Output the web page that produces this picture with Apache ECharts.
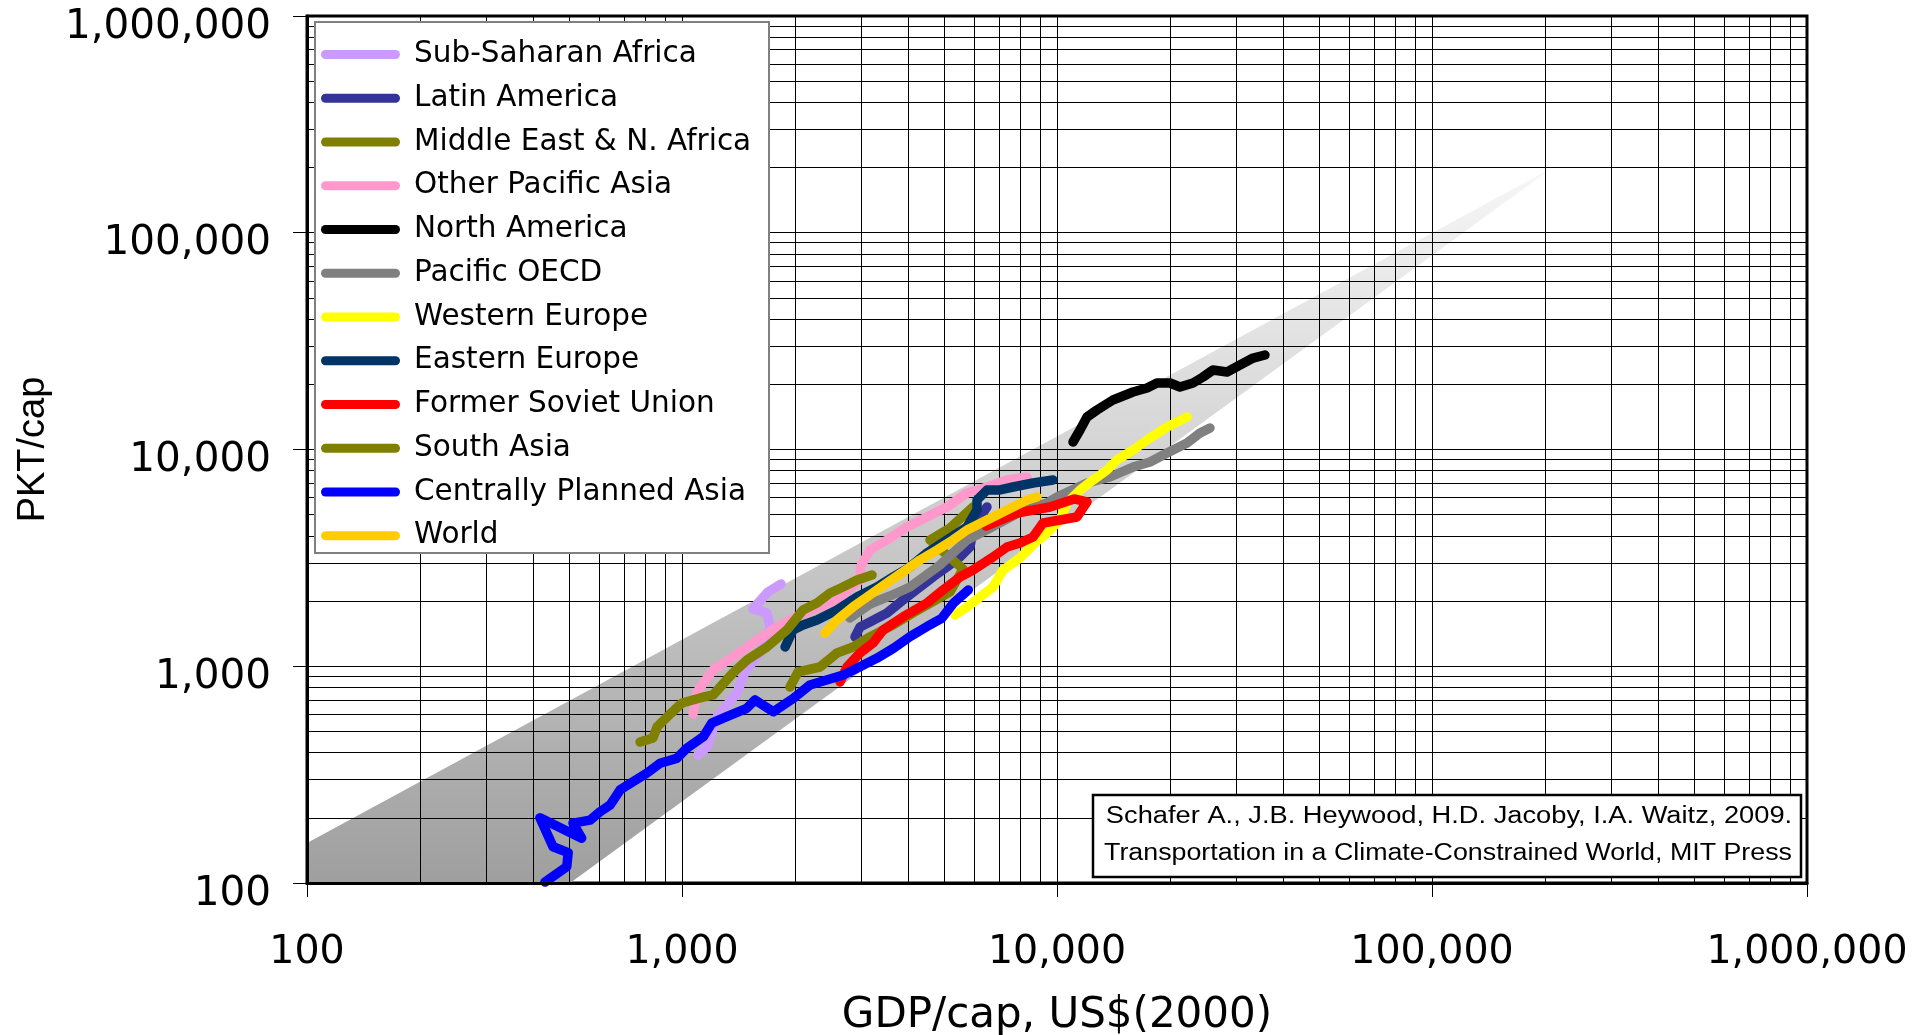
<!DOCTYPE html>
<html><head><meta charset="utf-8">
<script src="https://cdn.jsdelivr.net/npm/echarts@6/dist/echarts.min.js"></script>
<style>html,body{margin:0;padding:0;background:#fff}#c{width:1926px;height:1035px}</style>
</head><body><div id="c"></div>
<script>
const seriesNames = ['Sub-Saharan Africa','Latin America','Middle East & N. Africa','Other Pacific Asia','North America','Pacific OECD','Western Europe','Eastern Europe','Former Soviet Union','South Asia','Centrally Planned Asia','World'];
const seriesColors = ['#cc99ff','#333399','#808000','#ff99cc','#000000','#808080','#ffff00','#003366','#ff0000','#808000','#0000ff','#ffcc00'];

const ssaGdp = [1103,1166,1240,1402,1472,1634,1717,1685,1546,1695,1837];
const ssaPkt = [390,424,583,753,941,1189,1517,1761,1837,2201,2397];
const laGdp = [2893,2983,3171,3522,3885,4313,4671,5089,5512,5861,5970,6233,6506];
const laPkt = [1365,1517,1600,1761,2022,2321,2581,2870,3192,3550,4252,4883,5429];
const menaGdp = [1941,2039,2333,2590,2858,3171,3653,4130,5184,5616,5346,4585,5184,5970];
const menaPkt = [802,941,992,1151,1227,1365,1549,1761,2201,2810,3027,3824,4345,5429];
const opaGdp = [1070,1096,1210,1367,1546,1792,2064,2590,2983,2990,3171,3522,3981,4500,5089,5754,6506,7356,8318];
const opaPkt = [602,761,961,1103,1280,1517,1724,2022,2500,2870,3439,3824,4390,4883,5429,6300,6714,7230,7466];
const naGdp = [11033,11517,12023,12785,14103,15946,17378,18478,20014,21281,23052,24512,26062,28404,30761,33324,35858];
const naPkt = [10829,12303,14125,15214,16922,18417,19215,20265,20265,19424,20265,21602,23272,22786,24537,26427,27290];
const poGdp = [2805,3171,3587,4055,4875,5754,6627,7965,9404,10000,12023,13849,15946,17701,19652,22223,24062,25586];
const poPkt = [1670,1937,2110,2321,2932,3824,4345,5147,5666,6037,7004,7466,8305,8755,9637,10715,11915,12568];
const weGdp = [5346,5754,6233,6751,7178,7965,8846,9404,10186,10634,11517,12474,13594,14454,15946,17378,19652,22223];
const wePkt = [1724,1877,2087,2321,2780,3159,3784,4120,4729,5666,6504,7230,8044,8945,9947,11063,12701,14125];
const eeGdp = [1883,1977,2102,2291,2590,2929,3311,3653,4055,4500,5089,5754,6119,6119,6506,7047,7635,8630,9757];
const eePkt = [1227,1470,1549,1635,1818,2087,2321,2581,2870,3331,3824,4390,5260,5848,6504,6504,6714,7004,7230];
const fsuGdp = [2638,2754,2983,3231,3436,3885,4500,4966,5512,5970,6751,7356,7965,8630,9177,11307,12023,11103,9579,7820,6469];
const fsuPkt = [846,992,1151,1280,1470,1688,1958,2248,2581,2780,3192,3550,3704,3949,4581,4883,5726,5911,5429,5093,4436];
const saGdp = [773,837,858,912,1000,1117,1210,1367,1491,1685,1905,2102,2291,2482,2687,2929,3212];
const saPkt = [447,467,525,583,677,714,737,931,1069,1227,1470,1818,1958,2178,2321,2500,2636];
const cpaGdp = [431,493,497,453,418,540,512,569,604,643,684,740,805,874,968,1029,1140,1200,1316,1488,1566,1752,1981,2193,2430,2692,2983,3305,3661,4055,4493,4926,5290,5800];
const cpaPkt = [101,119,138,147,200,161,189,195,213,229,269,293,321,357,376,418,473,546,585,640,699,617,711,819,864,912,995,1088,1210,1369,1522,1664,1952,2248];
const worldGdp = [2406,2590,2858,3114,3522,3885,4313,4786,5280,5754,6506,7356,8318,8846];
const worldPkt = [1424,1635,1877,2087,2422,2722,3092,3439,3824,4252,4729,5260,5848,6037];

const bandGdp = [100,210000,503,100];
const bandPkt = [153,200000,100,100];

const citationLines = ['Schafer A., J.B. Heywood, H.D. Jacoby, I.A. Waitz, 2009.','Transportation in a Climate-Constrained World, MIT Press'];

const gdpSets = [ssaGdp,laGdp,menaGdp,opaGdp,naGdp,poGdp,weGdp,eeGdp,fsuGdp,saGdp,cpaGdp,worldGdp];
const pktSets = [ssaPkt,laPkt,menaPkt,opaPkt,naPkt,poPkt,wePkt,eePkt,fsuPkt,saPkt,cpaPkt,worldPkt];

const gridValues = [];
[100,1000,10000,100000].forEach(d => { for (let k = 1; k <= 9; k++) gridValues.push(k * d); });
gridValues.push(1000000);

const chart = echarts.init(document.getElementById('c'), null, {renderer:'canvas', width:1926, height:1035});
const fmt = v => Math.round(v).toLocaleString('en-US');

const dataSeries = seriesNames.map((name, i) => ({
  name: name, type: 'line', symbol: 'none', z: 3,
  data: gdpSets[i].map((g, j) => [g, pktSets[i][j]]),
  color: seriesColors[i],
  itemStyle: {color: seriesColors[i]},
  lineStyle: {color: seriesColors[i], width: 9.5, cap: 'round', join: 'round'},
  emphasis: {disabled: true}, silent: true
}));

chart.setOption({
  animation: false,
  grid: {left: 307, right: 119, top: 16, bottom: 152, show: true, borderColor: '#000', borderWidth: 3, backgroundColor: 'transparent', outerBoundsMode: 'none', containLabel: false},
  xAxis: {
    type: 'log', logBase: 10, min: 100, max: 1000000, splitNumber: 4, z: 5,
    axisLine: {show: true, onZero: false, lineStyle: {color: '#000', width: 3}},
    axisTick: {show: true, inside: false, length: 14, lineStyle: {color: '#000', width: 1}},
    axisLabel: {fontFamily: 'DejaVu Sans', fontSize: 39.5, color: '#000', margin: 50, formatter: fmt},
    splitLine: {show: false},
    name: 'GDP/cap, US$(2000)', nameLocation: 'middle', nameGap: 112,
    nameTextStyle: {fontFamily: 'DejaVu Sans', fontSize: 42, color: '#000'}
  },
  yAxis: {
    type: 'log', logBase: 10, min: 100, max: 1000000, splitNumber: 4, z: 5,
    axisLine: {show: true, onZero: false, lineStyle: {color: '#000', width: 3}},
    axisTick: {show: true, inside: false, length: 14, lineStyle: {color: '#000', width: 1}},
    axisLabel: {fontFamily: 'DejaVu Sans', fontSize: 40.5, color: '#000', margin: 36, verticalAlign: 'top', lineHeight: 22, formatter: fmt},
    splitLine: {show: false},
    name: 'PKT/cap', nameLocation: 'middle', nameRotate: 90, nameGap: 254,
    nameTextStyle: {fontFamily: 'Liberation Sans', fontSize: 38, color: '#000'}
  },
  legend: {
    orient: 'vertical', left: 321, top: 39.5, padding: 0, itemGap: 13.75,
    itemWidth: 79, itemHeight: 9, z: 10, selectedMode: false,
    icon: 'path://M4.5,0L74.5,0A4.5,4.5,0,0,1,74.5,9L4.5,9A4.5,4.5,0,0,1,4.5,0Z',
    itemStyle: {borderWidth: 0},
    textStyle: {fontFamily: 'DejaVu Sans', fontSize: 29.5, lineHeight: 30, color: '#000', padding: [0,0,0,9]},
    data: seriesNames
  },
  graphic: [
    {type: 'rect', z: 8, shape: {x: 315, y: 22, width: 454, height: 531}, style: {fill: '#fff', stroke: '#808080', lineWidth: 2}},
    {type: 'rect', z: 8, shape: {x: 1093, y: 795, width: 708, height: 82}, style: {fill: '#fff', stroke: '#000', lineWidth: 2.5}},
    {type: 'text', z: 9, x: 1449, y: 817, scaleX: 1.17, style: {text: citationLines[0], fontFamily: 'Liberation Sans', fontSize: 23.3, fill: '#000', align: 'center', verticalAlign: 'middle'}},
    {type: 'text', z: 9, x: 1448, y: 854, scaleX: 1.15, style: {text: citationLines[1], fontFamily: 'Liberation Sans', fontSize: 23.3, fill: '#000', align: 'center', verticalAlign: 'middle'}}
  ],
  series: [
    {
      type: 'custom', name: 'band', z: 1, silent: true, clip: true,
      data: bandGdp.map((g, i) => [g, bandPkt[i]]),
      renderItem: function (params, api) {
        if (params.dataIndex !== 0) return null;
        const pts = bandGdp.map((g, i) => api.coord([g, bandPkt[i]]));
        return {type: 'polygon', shape: {points: pts},
          style: {fill: new echarts.graphic.LinearGradient(0, 1, 0, 0, [{offset: 0, color: '#9f9f9f'}, {offset: 1, color: '#f7f7f7'}])}};
      }
    },
    {
      type: 'line', name: 'grid', z: 2, silent: true, symbol: 'none',
      data: [[100, 100]], lineStyle: {width: 0},
      markLine: {
        z: 2, silent: true, symbol: ['none', 'none'], animation: false,
        label: {show: false}, emphasis: {disabled: true},
        lineStyle: {color: '#000', width: 1, type: 'solid'},
        data: gridValues.map(v => ({xAxis: v})).concat(gridValues.map(v => ({yAxis: v})))
      }
    }
  ].concat(dataSeries)
});
</script>
</body></html>
